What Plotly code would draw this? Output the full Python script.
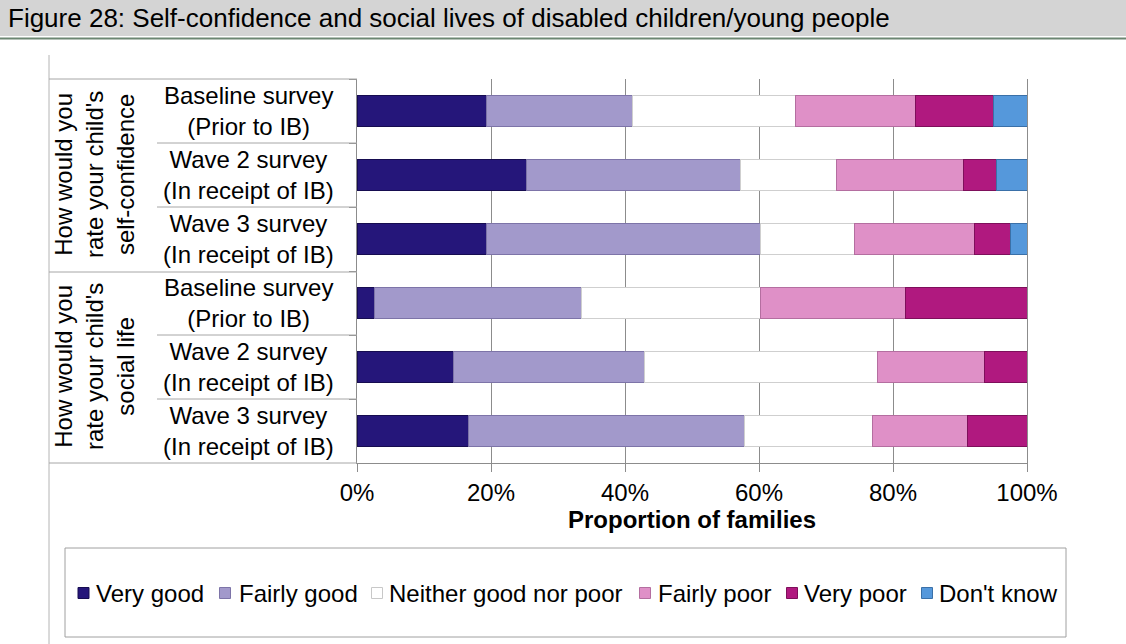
import plotly.graph_objects as go

# ---------------- data ----------------
groups = ["How would you<br>rate your child's<br>self-confidence",
          "How would you<br>rate your child's<br>social life"]
waves = ["Baseline survey<br>(Prior to IB)",
         "Wave 2 survey<br>(In receipt of IB)",
         "Wave 3 survey<br>(In receipt of IB)"]
series_names = ["Very good", "Fairly good", "Neither good nor poor",
                "Fairly poor", "Very poor", "Don't know"]
very_good = [19.3, 25.3, 19.3, 2.6, 14.4, 16.7]
fairly_good = [21.8, 32.0, 40.9, 30.9, 28.5, 41.1]
neither = [24.4, 14.2, 14.1, 26.7, 34.8, 19.1]
fairly_poor = [17.9, 19.0, 17.9, 21.7, 16.0, 14.2]
very_poor = [11.6, 4.9, 5.3, 18.1, 6.3, 8.9]
dont_know = [5.0, 4.6, 2.5, 0.0, 0.0, 0.0]
x_ticks = [0, 20, 40, 60, 80, 100]
x_tick_labels = ["0%", "20%", "40%", "60%", "80%", "100%"]

series_values = [very_good, fairly_good, neither, fairly_poor, very_poor, dont_know]
colors = ["#25167a", "#a299cb", "#ffffff", "#df90c7", "#b0197f", "#5598db"]
edge_colors = ["#160c50", "#7d74a8", "#cfcfcf", "#b46ea0", "#7e0f5b", "#3a70a8"]

# category keys (unique) for the 6 bars
cat_keys = []
cat_labels = []
for gi, g in enumerate(groups):
    for w in waves:
        cat_keys.append(f"{gi}|{w}")
        cat_labels.append(w)

# ---------------- geometry helpers (pixels -> paper) ----------------
W, H = 1126, 644
L, R, T, B = 357, 1027, 79, 463
FONT = "Arial, Liberation Sans, sans-serif"


def px(x):
    return (x - L) / (R - L)


def py(y):
    return (B - y) / (B - T)


fig = go.Figure()
for name, vals, c, ec in zip(series_names, series_values, colors, edge_colors):
    fig.add_trace(go.Bar(
        y=cat_keys, x=vals, name=name, orientation="h",
        marker=dict(color=c, line=dict(color=ec, width=1)),
        showlegend=False,
    ))

shapes = []
annotations = []
LINE = "#a6a6a6"

# title bar
shapes.append(dict(type="rect", xref="paper", yref="paper", x0=px(0), x1=px(W),
                   y0=py(0), y1=py(36), fillcolor="#d4d4d4", line=dict(width=0), layer="below"))
shapes.append(dict(type="line", xref="paper", yref="paper", x0=px(0), x1=px(W),
                   y0=py(38.5), y1=py(38.5), line=dict(color="#6c8672", width=2)))
annotations.append(dict(xref="paper", yref="paper", x=px(6), y=py(18), xanchor="left",
                        yanchor="middle", showarrow=False,
                        text="Figure 28: Self-confidence and social lives of disabled children/young people",
                        font=dict(family=FONT, size=26, color="#000000")))

# chart-area left border
shapes.append(dict(type="line", xref="paper", yref="paper", x0=px(49), x1=px(49),
                   y0=py(55), y1=py(H), line=dict(color="#b4b4b4", width=1)))
# table lines
for yy in [79, 272, 463]:
    shapes.append(dict(type="line", xref="paper", yref="paper", x0=px(49), x1=px(357),
                       y0=py(yy), y1=py(yy), line=dict(color=LINE, width=1)))
for yy in [143, 207, 335, 399]:
    shapes.append(dict(type="line", xref="paper", yref="paper", x0=px(157), x1=px(357),
                       y0=py(yy), y1=py(yy), line=dict(color=LINE, width=1)))

# inner category labels
for key, lab in zip(cat_keys, cat_labels):
    annotations.append(dict(xref="paper", yref="y", x=px(248), y=key, xanchor="center",
                            yanchor="middle", showarrow=False, text=lab,
                            font=dict(family=FONT, size=24, color="#000000")))
# outer group labels (rotated)
for gi, g in enumerate(groups):
    annotations.append(dict(xref="paper", yref="y", x=px(94), y=gi * len(waves) + (len(waves) - 1) / 2,
                            xanchor="center", yanchor="middle", showarrow=False, text=g,
                            textangle=-90, font=dict(family=FONT, size=24, color="#000000")))

# manual legend
shapes.append(dict(type="rect", xref="paper", yref="paper", x0=px(65), x1=px(1066),
                   y0=py(548), y1=py(637), line=dict(color="#a0a0a0", width=1),
                   fillcolor="rgba(0,0,0,0)"))
leg_marker_x = [83.5, 225, 377, 645, 792, 927]
leg_text_x = [94, 237, 387, 656, 802, 937]
leg_y = 593
for name, c, ec, mx, tx in zip(series_names, colors, edge_colors, leg_marker_x, leg_text_x):
    shapes.append(dict(type="rect", xref="paper", yref="paper", x0=px(mx - 5.5), x1=px(mx + 5.5),
                       y0=py(leg_y + 5.5), y1=py(leg_y - 5.5), fillcolor=c,
                       line=dict(color=ec if c != "#ffffff" else "#c8c8c8", width=1)))
    annotations.append(dict(xref="paper", yref="paper", x=px(tx), y=py(leg_y), xanchor="left",
                            yanchor="middle", showarrow=False, text=name,
                            font=dict(family=FONT, size=24, color="#000000")))

GRID = "#8c8c8c"
fig.update_layout(
    width=W, height=H,
    margin=dict(l=L, r=W - R, t=T, b=H - B, pad=0),
    barmode="stack", bargap=0.52,
    plot_bgcolor="#ffffff", paper_bgcolor="#ffffff",
    font=dict(family=FONT, size=24, color="#000000"),
    shapes=shapes, annotations=annotations,
    xaxis=dict(range=[0, 100], tickvals=x_ticks, ticktext=x_tick_labels,
               showgrid=True, gridcolor=GRID, gridwidth=1, zeroline=False,
               ticks="outside", ticklen=8, tickcolor=GRID, showline=True, linecolor=GRID,
               tickfont=dict(family=FONT, size=24, color="#000000"),
               title=dict(text="<b>Proportion of families</b>", standoff=5,
                          font=dict(family=FONT, size=24, color="#000000"))),
    yaxis=dict(type="category", categoryorder="array", categoryarray=cat_keys,
               autorange="reversed", showticklabels=False, showgrid=False, zeroline=False,
               ticks="outside", tickson="boundaries", ticklen=7, tickcolor=GRID,
               showline=True, mirror=True, linecolor=GRID),
    hovermode=False,
)

fig.write_html("out.html")
